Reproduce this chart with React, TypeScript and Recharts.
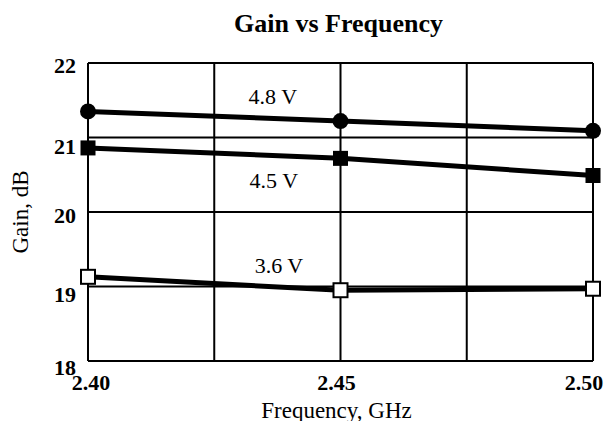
import React from 'react';
import {
  LineChart, Line, XAxis, YAxis, ReferenceLine, ReferenceDot, Label
} from 'recharts';

// Frequency points (GHz) and gain per supply voltage (dB)
const freqs = [2.40, 2.45, 2.50];
const gain48 = [21.35, 21.22, 21.09];
const gain45 = [20.86, 20.72, 20.49];
const gain36 = [19.13, 18.95, 18.97];

const xTicks = [2.40, 2.45, 2.50];
const yTicks = [18, 19, 20, 21, 22];
const gridX = [2.425, 2.45, 2.475, 2.5];
const gridY = [19, 20, 21, 22];

// series name labels placed in the plot
const noteText = ['4.8 V', '4.5 V', '3.6 V'];
const noteX = [2.4366, 2.4368, 2.4378];
const noteY = [21.56, 20.43, 19.29];

const FONT = '"Liberation Serif", "Times New Roman", serif';

const data = freqs.map((f, i) => ({
  freq: f,
  v48: gain48[i],
  v45: gain45[i],
  v36: gain36[i],
}));

const CircleDot = (props: any) => {
  const { cx, cy } = props;
  return <circle cx={cx} cy={cy} r={8} fill="#000" />;
};

const FilledSquare = (props: any) => {
  const { cx, cy } = props;
  return <rect x={cx - 7.5} y={cy - 7.5} width={15} height={15} fill="#000" />;
};

const OpenSquare = (props: any) => {
  const { cx, cy } = props;
  return <rect x={cx - 7} y={cy - 7} width={14} height={14} fill="#fff" stroke="#000" strokeWidth={2} />;
};

// the original places its tick labels a little off the grid
const xShift = [3, -4, -9];
const yShift: Record<number, number> = { 18: 6, 19: 8, 20: 3, 21: 9, 22: 2 };

const XTick = (props: any) => {
  const { x, y, payload, index } = props;
  return (
    <text x={x + (xShift[index] || 0)} y={y} dy="0.71em" textAnchor="middle"
      fill="#000" fontSize={22} fontWeight="bold" fontFamily={FONT}>
      {Number(payload.value).toFixed(2)}
    </text>
  );
};

const YTick = (props: any) => {
  const { x, y, payload } = props;
  return (
    <text x={x} y={y + (yShift[payload.value] || 0)} dy="0.355em" textAnchor="end"
      fill="#000" fontSize={22} fontWeight="bold" fontFamily={FONT}>
      {payload.value}
    </text>
  );
};

export default function App() {
  return (
    <div style={{ position: 'absolute', left: 0, top: 0, width: 607, height: 421, background: '#fff' }}>
      <div style={{
        position: 'absolute', left: 86, top: 9, width: 505, textAlign: 'center',
        fontFamily: FONT, fontWeight: 'bold', fontSize: 26, lineHeight: '30px', color: '#000'
      }}>
        Gain vs Frequency
      </div>
      <LineChart width={607} height={421} data={data}
        margin={{ top: 63, right: 14, left: 0, bottom: 0 }}>
        {gridX.map((v) => (
          <ReferenceLine key={'gx' + v} x={v} stroke="#000" strokeWidth={2} />
        ))}
        {gridY.map((v) => (
          <ReferenceLine key={'gy' + v} y={v} stroke="#000" strokeWidth={2} />
        ))}
        <XAxis dataKey="freq" type="number" domain={[2.4, 2.5]} ticks={xTicks}
          axisLine={{ stroke: '#000', strokeWidth: 2 }} tickLine={false}
          tickSize={0} tickMargin={13} height={60} tick={<XTick />}>
          <Label content={(p: any) => {
            const vb = p.viewBox;
            return (
              <text x={vb.x + vb.width / 2 - 4} y={410} dominantBaseline="central" textAnchor="middle"
                fill="#000" fontSize={23} fontFamily={FONT}>Frequency, GHz</text>
            );
          }} />
        </XAxis>
        <YAxis type="number" domain={[18, 22]} ticks={yTicks} width={88}
          axisLine={{ stroke: '#000', strokeWidth: 2 }} tickLine={false}
          tickSize={0} tickMargin={12} tick={<YTick />}>
          <Label content={(p: any) => {
            const vb = p.viewBox;
            const cx = 20;
            const cy = vb.y + vb.height / 2;
            return (
              <text x={cx} y={cy} transform={`rotate(-90 ${cx} ${cy})`} dominantBaseline="central"
                textAnchor="middle" fill="#000" fontSize={23} fontFamily={FONT}>Gain, dB</text>
            );
          }} />
        </YAxis>
        <Line type="linear" dataKey="v48" stroke="#000" strokeWidth={5}
          dot={<CircleDot />} activeDot={false} isAnimationActive={false} />
        <Line type="linear" dataKey="v45" stroke="#000" strokeWidth={5}
          dot={<FilledSquare />} activeDot={false} isAnimationActive={false} />
        <Line type="linear" dataKey="v36" stroke="#000" strokeWidth={5}
          dot={<OpenSquare />} activeDot={false} isAnimationActive={false} />
        {noteText.map((t, i) => (
          <ReferenceDot key={t} x={noteX[i]} y={noteY[i]} r={0} fill="none" stroke="none"
            label={{ value: t, position: 'center', fill: '#000', fontSize: 22, fontFamily: FONT }} />
        ))}
      </LineChart>
    </div>
  );
}
